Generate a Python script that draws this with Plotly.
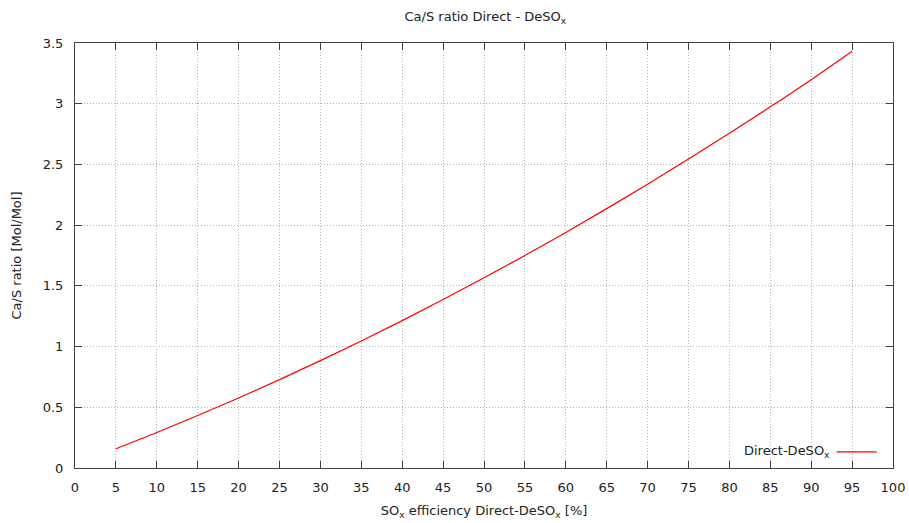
import plotly.graph_objects as go

efficiency = [5, 10, 15, 20, 25, 30, 35, 40, 45, 50, 55, 60, 65, 70, 75, 80, 85, 90, 95]
ca_s_ratio = [0.158, 0.292, 0.432, 0.577, 0.728, 0.884, 1.046, 1.214, 1.387, 1.566,
              1.750, 1.940, 2.136, 2.337, 2.544, 2.756, 2.974, 3.198, 3.432]
x_ticks = list(range(0, 101, 5))
y_ticks = [0, 0.5, 1, 1.5, 2, 2.5, 3, 3.5]
y_tick_labels = ["0", "0.5", "1", "1.5", "2", "2.5", "3", "3.5"]

FONT = "DejaVu Sans, Verdana, sans-serif"
TXT = "#222222"
FS = 13

fig = go.Figure()
fig.add_trace(go.Scatter(x=efficiency, y=ca_s_ratio, mode="lines",
                         line=dict(color="#ff0000", width=1.2, shape="spline", smoothing=1),
                         name="Direct-DeSO<sub>x</sub>", showlegend=False))

axis_common = dict(
    showline=True, linecolor="#404040", linewidth=1, mirror="ticks",
    ticks="inside", ticklen=7, tickcolor="#404040", tickwidth=1,
    showgrid=True, gridcolor="#b4b4b4", griddash="1px,2px", gridwidth=1,
    zeroline=False, automargin=False,
    tickfont=dict(family=FONT, size=FS, color=TXT),
)

fig.update_xaxes(range=[0, 100], tickvals=x_ticks, ticklabelstandoff=7,
                 title=dict(text="SO<sub>x</sub> efficiency Direct-DeSO<sub>x</sub> [%]",
                            font=dict(family=FONT, size=FS, color=TXT), standoff=12),
                 **axis_common)
fig.update_yaxes(range=[0, 3.5], tickvals=y_ticks, ticktext=y_tick_labels,
                 ticklabelstandoff=8,
                 title=dict(text="Ca/S ratio [Mol/Mol]",
                            font=dict(family=FONT, size=FS, color=TXT), standoff=18),
                 **axis_common)

# gnuplot-style key: text then line sample
fig.add_annotation(xref="paper", yref="paper", x=0.926, y=0.038, xanchor="right",
                   yanchor="middle", showarrow=False,
                   text="Direct-DeSO<sub>x</sub>",
                   font=dict(family=FONT, size=FS, color=TXT))
fig.add_shape(type="line", xref="paper", yref="paper", x0=0.931, x1=0.98,
              y0=0.038, y1=0.038, line=dict(color="#ff0000", width=1.2))

fig.update_layout(
    width=909, height=523,
    margin=dict(l=75, r=16, t=43, b=55, autoexpand=False),
    paper_bgcolor="white", plot_bgcolor="white",
    title=dict(text="Ca/S ratio Direct - DeSO<sub>x</sub>", x=0.534, xanchor="center",
               y=0.968, yanchor="middle",
               font=dict(family=FONT, size=FS, color=TXT)),
    showlegend=False,
)

fig.write_html("out.html")
